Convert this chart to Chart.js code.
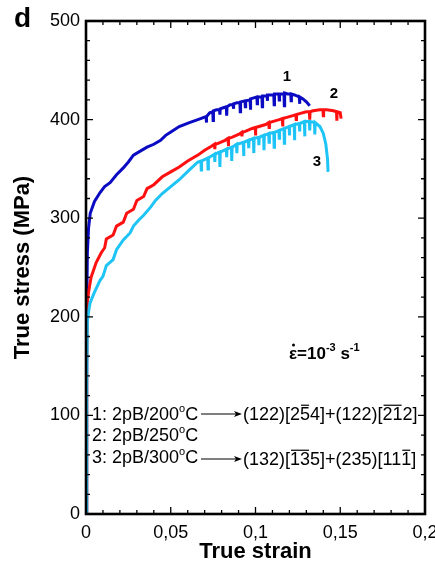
<!DOCTYPE html>
<html>
<head>
<meta charset="utf-8">
<script src="https://cdn.jsdelivr.net/npm/chart.js@4"></script>
<style>
  html, body { margin: 0; padding: 0; background: #fff; }
  #wrap { width: 435px; height: 573px; }
</style>
</head>
<body>
<div id="wrap"><canvas id="c" width="435" height="573"></canvas></div>
<script>
// curve 1: 2pB/200C (blue); narrow triplets are the serration dips
const strain1 = [0, 0.0004, 0.0008, 0.0015, 0.0025, 0.005, 0.0083, 0.011, 0.0142, 0.018, 0.022, 0.025, 0.028, 0.032, 0.036,
  0.040, 0.044, 0.047, 0.0496, 0.055, 0.061, 0.066,
  0.0708, 0.071, 0.0712, 0.073, 0.0748, 0.075, 0.0752, 0.077, 0.0788, 0.079, 0.0792, 0.081, 0.0828, 0.083, 0.0832, 0.085,
  0.0868, 0.087, 0.0872, 0.089, 0.0908, 0.091, 0.0912, 0.0938, 0.094, 0.0942, 0.0968, 0.097, 0.0972, 0.099,
  0.1008, 0.101, 0.1012, 0.1038, 0.104, 0.1042, 0.1068, 0.107, 0.1072, 0.109, 0.1108, 0.111, 0.1112, 0.1138, 0.114, 0.1142,
  0.1168, 0.117, 0.1172, 0.119, 0.1208, 0.121, 0.1212, 0.123, 0.1258, 0.126, 0.1262, 0.128, 0.130, 0.132];
const stress1 = [0, 200, 265, 290, 305, 317, 326, 332, 336, 344, 351, 357, 364, 368, 372,
  375, 379, 384, 387, 393, 397, 400,
  403, 397, 403, 407, 408, 399, 409, 410, 410, 405, 411, 412, 413, 404, 413, 415,
  415, 411, 416, 417, 417, 408, 418, 419, 413, 419, 420, 410, 421, 422,
  423, 416, 423, 423, 413, 424, 424, 419, 425, 425, 425, 415, 426, 426, 420, 426,
  426, 414, 427, 426, 426, 419, 426, 425, 423, 416, 423, 421, 418, 414];

// curve 2: 2pB/250C (red)
const strain2 = [0, 0.0004, 0.0008, 0.0015, 0.003, 0.006, 0.009, 0.011, 0.012, 0.016, 0.018, 0.022, 0.024, 0.028, 0.030,
  0.034, 0.036, 0.040, 0.045, 0.050, 0.055, 0.060, 0.066, 0.070, 0.074,
  0.0758, 0.076, 0.0762, 0.078, 0.082, 0.0838, 0.084, 0.0842, 0.086, 0.090, 0.0918, 0.092, 0.0922, 0.094, 0.098,
  0.0998, 0.100, 0.1002, 0.102, 0.106, 0.1078, 0.108, 0.1082, 0.110, 0.114, 0.1158, 0.116, 0.1162, 0.118, 0.122,
  0.1238, 0.124, 0.1242, 0.126, 0.130, 0.1318, 0.132, 0.1322, 0.134, 0.138, 0.1398, 0.140, 0.1402, 0.142, 0.146,
  0.1478, 0.148, 0.1482, 0.150, 0.1505];
const stress2 = [0, 150, 215, 225, 240, 255, 265, 270, 279, 283, 292, 296, 305, 309, 318,
  322, 330, 334, 342, 347, 352, 358, 364, 369, 373,
  375, 370, 375, 376, 379, 381, 373, 381, 382, 385, 387, 383, 387, 388, 391,
  392, 384, 392, 393, 395, 397, 392, 397, 398, 400, 401, 393, 401, 402, 404,
  405, 400, 405, 406, 408, 408, 400, 408, 409, 410, 410, 404, 410, 410, 409,
  408, 399, 408, 407, 401];

// curve 3: 2pB/300C (cyan)
const strain3 = [0, 0.0004, 0.0008, 0.0015, 0.0024, 0.005, 0.0083, 0.010, 0.012, 0.016, 0.018, 0.022, 0.026, 0.028, 0.031,
  0.034, 0.038, 0.041, 0.045, 0.050, 0.055, 0.061, 0.066,
  0.0678, 0.068, 0.0682, 0.0718, 0.072, 0.0722, 0.0758, 0.076, 0.0762, 0.0788, 0.079, 0.0792, 0.0828, 0.083, 0.0832,
  0.0858, 0.086, 0.0862, 0.0888, 0.089, 0.0892, 0.0928, 0.093, 0.0932, 0.0958, 0.096, 0.0962, 0.0988, 0.099, 0.0992,
  0.1018, 0.102, 0.1022, 0.1048, 0.105, 0.1052, 0.1078, 0.108, 0.1082, 0.1108, 0.111, 0.1112, 0.1138, 0.114, 0.1142,
  0.1168, 0.117, 0.1172, 0.1198, 0.120, 0.1202, 0.1228, 0.123, 0.1232, 0.1258, 0.126, 0.1262, 0.1288, 0.129, 0.1292,
  0.1318, 0.132, 0.1322, 0.1348, 0.135, 0.1352, 0.138, 0.140, 0.1415, 0.1425, 0.1428];
const stress3 = [0, 130, 195, 205, 214, 225, 237, 241, 252, 258, 268, 278, 285, 292, 298,
  303, 311, 318, 325, 332, 339, 349, 357,
  358, 349, 358, 361, 350, 361, 365, 357, 365, 367, 352, 367, 370, 362, 370,
  372, 358, 372, 375, 366, 375, 377, 363, 377, 379, 371, 379, 381, 366, 381,
  382, 374, 382, 384, 369, 384, 386, 377, 386, 387, 372, 387, 389, 381, 389,
  391, 376, 391, 393, 384, 393, 395, 379, 395, 396, 388, 396, 398, 383, 398,
  398, 389, 398, 397, 385, 397, 393, 386, 375, 360, 347];

const xTicks = [0, 0.05, 0.1, 0.15, 0.2];
const yTicks = [0, 100, 200, 300, 400, 500];

const pts = (xs, ys) => xs.map((x, i) => ({ x: x, y: ys[i] }));
const fmtStrain = v => parseFloat(v.toFixed(2)).toString().replace('.', ',');

const FONT = '"Liberation Sans", Arial, Helvetica, sans-serif';

// text runs: [text, overline, superscript]
function drawRuns(ctx, x, y, runs, size, bold) {
  runs.forEach(r => {
    const sup = r[2];
    const fs = sup ? Math.round(size * 0.62) : size;
    ctx.font = (bold ? 'bold ' : '') + fs + 'px ' + FONT;
    const w = ctx.measureText(r[0]).width;
    const yy = sup ? y - size * 0.45 : y;
    ctx.fillText(r[0], x, yy);
    if (r[1]) {
      ctx.beginPath();
      ctx.lineWidth = 1.2;
      ctx.moveTo(x + 1, y - size * 0.82);
      ctx.lineTo(x + w - 1, y - size * 0.82);
      ctx.stroke();
    }
    x += w;
  });
  return x;
}

function arrow(ctx, x0, x1, y) {
  ctx.beginPath();
  ctx.lineWidth = 1.2;
  ctx.moveTo(x0, y);
  ctx.lineTo(x1 - 4, y);
  ctx.stroke();
  ctx.beginPath();
  ctx.moveTo(x1, y);
  ctx.lineTo(x1 - 8, y - 3);
  ctx.lineTo(x1 - 6, y);
  ctx.lineTo(x1 - 8, y + 3);
  ctx.closePath();
  ctx.fill();
}

const framePlugin = {
  id: 'frame',
  afterDraw(chart) {
    const ctx = chart.ctx;
    const a = chart.chartArea;
    const xs = chart.scales.x, ys = chart.scales.y;
    ctx.save();
    ctx.strokeStyle = '#000';
    ctx.fillStyle = '#000';
    // ticks, inward on all sides
    ctx.lineWidth = 1.3;
    for (let i = 0; i <= 20; i++) {
      const px = xs.getPixelForValue(i * 0.01);
      const len = i % 5 === 0 ? 7 : 4;
      ctx.beginPath();
      ctx.moveTo(px, a.bottom); ctx.lineTo(px, a.bottom - len);
      ctx.moveTo(px, a.top); ctx.lineTo(px, a.top + len);
      ctx.stroke();
    }
    for (let i = 0; i <= 25; i++) {
      const py = ys.getPixelForValue(i * 20);
      const len = i % 5 === 0 ? 7 : 4;
      ctx.beginPath();
      ctx.moveTo(a.left, py); ctx.lineTo(a.left + len, py);
      ctx.moveTo(a.right, py); ctx.lineTo(a.right - len, py);
      ctx.stroke();
    }
    ctx.lineWidth = 2.6;
    ctx.strokeRect(a.left, a.top, a.right - a.left, a.bottom - a.top);

    // panel letter
    ctx.textAlign = 'left';
    ctx.textBaseline = 'alphabetic';
    ctx.font = 'bold 28px ' + FONT;
    ctx.fillText('d', 14, 27);

    // curve numbers
    ctx.font = 'bold 15px ' + FONT;
    ctx.textAlign = 'center';
    ctx.fillText('1', 287, 81);
    ctx.fillText('2', 334, 98);
    ctx.fillText('3', 317, 166);
    ctx.textAlign = 'left';

    // strain rate
    let x = drawRuns(ctx, 289, 359, [['\u03b5', false, false]], 17, true);
    ctx.beginPath();
    ctx.arc(293.5, 345, 1.5, 0, Math.PI * 2);
    ctx.fill();
    x = drawRuns(ctx, x, 359, [['=10', false, false], ['-3', false, true], [' s', false, false], ['-1', false, true]], 17, true);

    // legend lines
    const fs = 18;
    drawRuns(ctx, 92, 420, [['1: 2pB/200', false, false], ['o', false, true], ['C', false, false]], fs, false);
    arrow(ctx, 201, 242, 414);
    drawRuns(ctx, 243, 420, [['(122)[2', false, false], ['5', true, false], ['4]', false, false], ['+', false, false],
      ['(122)[', false, false], ['21', true, false], ['2]', false, false]], fs, false);
    drawRuns(ctx, 92, 441, [['2: 2pB/250', false, false], ['o', false, true], ['C', false, false]], fs, false);
    drawRuns(ctx, 92, 463, [['3: 2pB/300', false, false], ['o', false, true], ['C', false, false]], fs, false);
    arrow(ctx, 201, 242, 459);
    drawRuns(ctx, 243, 465, [['(132)[', false, false], ['13', true, false], ['5]', false, false], ['+', false, false],
      ['(235)[11', false, false], ['1', true, false], [']', false, false]], fs, false);
    ctx.restore();
  }
};

const lineSet = (label, data, color) => ({
  label: label, data: data, borderColor: color, backgroundColor: color,
  showLine: true, pointRadius: 0, borderWidth: 3, tension: 0, fill: false
});

new Chart(document.getElementById('c'), {
  type: 'scatter',
  data: {
    datasets: [
      lineSet('2pB/300C', pts(strain3, stress3), '#1ec4f6'),
      lineSet('2pB/250C', pts(strain2, stress2), '#ff1010'),
      lineSet('2pB/200C', pts(strain1, stress1), '#0b0bc4')
    ]
  },
  options: {
    responsive: false,
    animation: false,
    layout: { padding: { top: 21, right: 10, left: 0, bottom: 0 } },
    plugins: { legend: { display: false }, tooltip: { enabled: false } },
    scales: {
      x: {
        type: 'linear', min: 0, max: 0.2,
        afterBuildTicks: s => { s.ticks = xTicks.map(v => ({ value: v })); },
        afterFit: s => { s.height = 59; s.paddingLeft = 0; s.paddingRight = 0; },
        grid: { display: false, drawTicks: false },
        border: { display: false },
        ticks: { color: '#000', padding: 8, font: { size: 18, family: FONT }, callback: v => fmtStrain(v), maxRotation: 0 },
        title: { display: true, text: 'True strain', color: '#000', font: { size: 22, weight: 'bold', family: FONT }, padding: { top: 0, bottom: 8 } }
      },
      y: {
        type: 'linear', min: 0, max: 500,
        afterBuildTicks: s => { s.ticks = yTicks.map(v => ({ value: v })); },
        afterFit: s => { s.width = 86; s.paddingTop = 0; s.paddingBottom = 0; },
        grid: { display: false, drawTicks: false },
        border: { display: false },
        ticks: { color: '#000', padding: 6, font: { size: 18, family: FONT } },
        title: { display: true, text: 'True stress (MPa)', color: '#000', font: { size: 22, weight: 'bold', family: FONT }, padding: { top: 10, bottom: 0 } }
      }
    }
  },
  plugins: [framePlugin]
});
</script>
</body>
</html>
